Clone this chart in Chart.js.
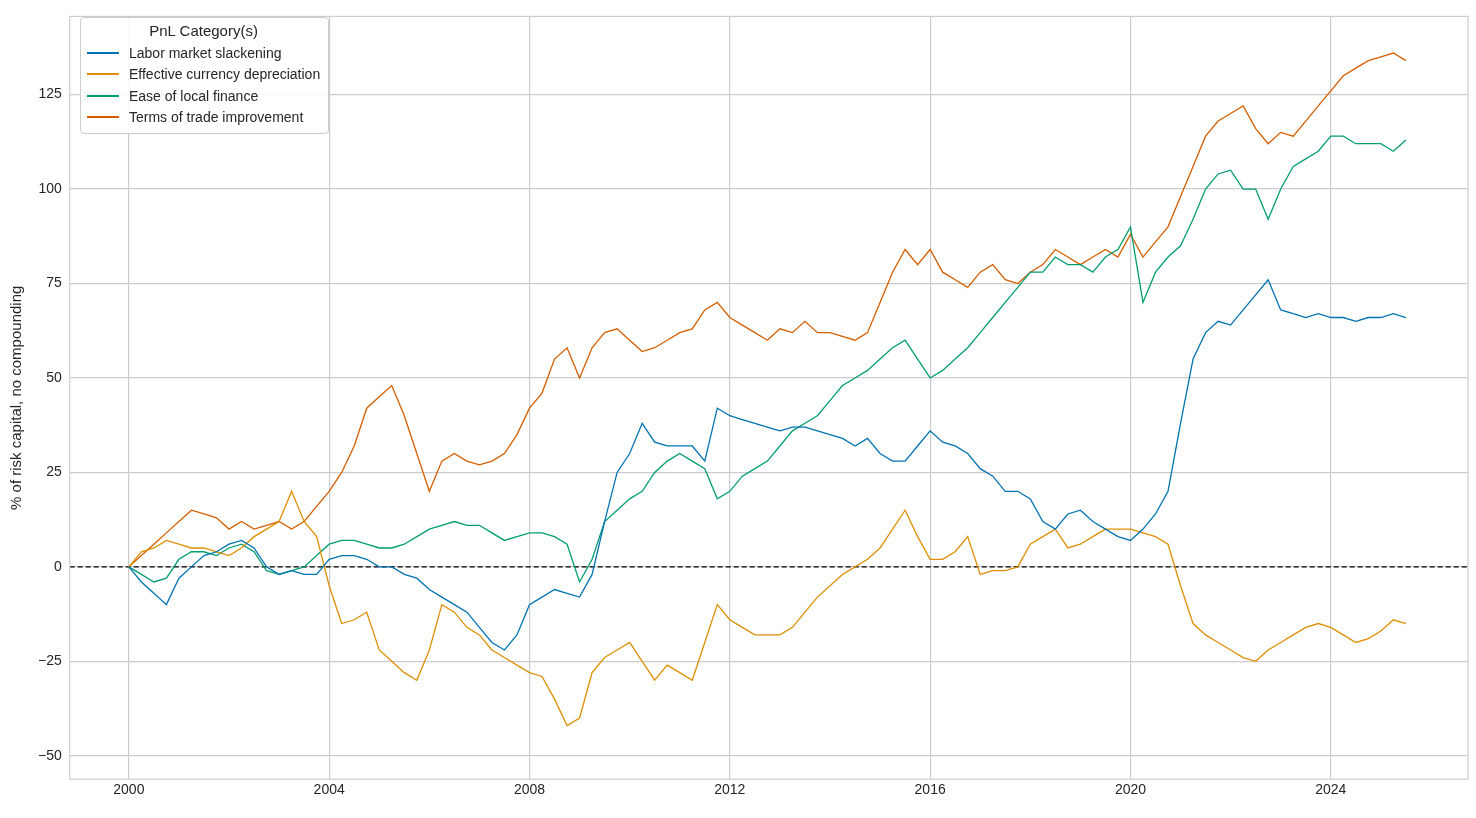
<!DOCTYPE html>
<html>
<head>
<meta charset="utf-8">
<script src="https://cdn.jsdelivr.net/npm/chart.js@4/dist/chart.umd.min.js"></script>
<style>
  body { margin: 0; background: #fff; font-family: "Liberation Sans", Arial, sans-serif; }
  #wrap { position: relative; width: 1476px; height: 818px; }
  #legend { position: absolute; left: 80px; top: 17px; border: 1px solid #ccc; border-radius: 4px;
    background: rgba(255,255,255,0.85); padding: 4px 8px 5px 6px; font-size: 14px; color: #262626; }
  #legend .t { text-align: center; font-size: 15px; margin-bottom: 3px; }
  #legend .r { display: flex; align-items: center; height: 21.5px; }
  #legend .s { width: 32px; height: 1.6px; margin-right: 10px; }
</style>
</head>
<body>
<div id="wrap">
  <canvas id="c" width="1476" height="818"></canvas>
  <div id="legend"><div class="t">PnL Category(s)</div></div>
</div>
<script>
// quarterly observation dates, 2000.00 .. 2025.50
var dates = [];
for ( var i = 0; i <= 102; i++ ) { dates.push( 2000 + i * 0.25 ); }

var seriesNames  = [ 'Labor market slackening', 'Effective currency depreciation', 'Ease of local finance', 'Terms of trade improvement' ];
var seriesColors = [ '#0173b2', '#de8f05', '#029e73', '#d55e00' ];

var labor = [ 0,-4,-7,-10, -3,0,3,4, 6,7,5,0, -2,-1,-2,-2, 2,3,3,2, 0,0,-2,-3, -6,-8,-10,-12, -16,-20,-22,-18,
  -10,-8,-6,-7, -8,-2,12,25, 30,38,33,32, 32,32,28,42, 40,39,38,37, 36,37,37,36, 35,34,32,34, 30,28,28,32,
  36,33,32,30, 26,24,20,20, 18,12,10,14, 15,12,10,8, 7,10,14,20, 38,55,62,65, 64,68,72,76, 68,67,66,67,
  66,66,65,66, 66,67,66 ];
var currency = [ 0,4,5,7, 6,5,5,4, 3,5,8,10, 12,20,12,8, -5,-15,-14,-12, -22,-25,-28,-30, -22,-10,-12,-16,
  -18,-22,-24,-26, -28,-29,-35,-42, -40,-28,-24,-22, -20,-25,-30,-26, -28,-30,-20,-10, -14,-16,-18,-18,
  -18,-16,-12,-8, -5,-2,0,2, 5,10,15,8, 2,2,4,8, -2,-1,-1,0, 6,8,10,5, 6,8,10,10, 10,9,8,6,
  -5,-15,-18,-20, -22,-24,-25,-22, -20,-18,-16,-15, -16,-18,-20,-19, -17,-14,-15 ];
var finance = [ 0,-2,-4,-3, 2,4,4,3, 5,6,4,-1, -2,-1,0,3, 6,7,7,6, 5,5,6,8, 10,11,12,11, 11,9,7,8,
  9,9,8,6, -4,2,12,15, 18,20,25,28, 30,28,26,18, 20,24,26,28, 32,36,38,40, 44,48,50,52, 55,58,60,55,
  50,52,55,58, 62,66,70,74, 78,78,82,80, 80,78,82,84, 90,70,78,82, 85,92,100,104, 105,100,100,92,
  100,106,108,110, 114,114,112,112, 112,110,113 ];
var terms = [ 0,3,6,9, 12,15,14,13, 10,12,10,11, 12,10,12,16, 20,25,32,42, 45,48,40,30, 20,28,30,28,
  27,28,30,35, 42,46,55,58, 50,58,62,63, 60,57,58,60, 62,63,68,70, 66,64,62,60, 63,62,65,62,
  62,61,60,62, 70,78,84,80, 84,78,76,74, 78,80,76,75, 78,80,84,82, 80,82,84,82, 88,82,86,90,
  98,106,114,118, 120,122,116,112, 115,114,118,122, 126,130,132,134, 135,136,134 ];

var yTicks = [ -50, -25, 0, 25, 50, 75, 100, 125 ];
var xTicks = [ 2000, 2004, 2008, 2012, 2016, 2020, 2024 ];

var values = [ labor, currency, finance, terms ];
var datasets = values.map( function ( v, k ) {
  return {
    label: seriesNames[ k ],
    data: dates.map( function ( d, i ) { return { x: d, y: v[ i ] }; } ),
    borderColor: seriesColors[ k ], borderWidth: 1.3, pointRadius: 0, tension: 0
  };
} );
datasets.push( {
  label: 'zero', data: [ { x: 1998.82, y: 0 }, { x: 2026.74, y: 0 } ],
  borderColor: '#000', borderWidth: 1.2, borderDash: [ 5, 3 ], pointRadius: 0
} );

var legend = document.getElementById( 'legend' );
seriesNames.forEach( function ( n, k ) {
  var r = document.createElement( 'div' );
  r.className = 'r';
  r.innerHTML = '<span class="s" style="background:' + seriesColors[ k ] + '"></span>' + n;
  legend.appendChild( r );
} );

var boxPlugin = {
  id: 'box',
  afterDraw: function ( chart ) {
    var a = chart.chartArea, ctx = chart.ctx;
    ctx.save();
    ctx.strokeStyle = '#cccccc';
    ctx.lineWidth = 1.2;
    ctx.strokeRect( a.left, a.top, a.right - a.left, a.bottom - a.top );
    ctx.restore();
  }
};

var font = { size: 14, family: 'Liberation Sans' };

new Chart( document.getElementById( 'c' ), {
  type: 'line',
  data: { datasets: datasets },
  options: {
    responsive: false, animation: false,
    layout: { padding: { top: 4, right: 8, left: 4, bottom: 16 } },
    plugins: { legend: { display: false }, tooltip: { enabled: false } },
    scales: {
      x: {
        type: 'linear', min: 1998.82, max: 2026.74,
        afterBuildTicks: function ( s ) { s.ticks = xTicks.map( function ( v ) { return { value: v }; } ); },
        ticks: { color: '#262626', font: font, callback: function ( v ) { return String( v ); } },
        grid: { color: '#cccccc', lineWidth: 1.2, drawTicks: false },
        border: { display: false }
      },
      y: {
        min: -56.2, max: 145.7,
        afterBuildTicks: function ( s ) { s.ticks = yTicks.map( function ( v ) { return { value: v }; } ); },
        ticks: { color: '#262626', font: font, padding: 8,
          callback: function ( v ) { return v < 0 ? '\u2212' + Math.abs( v ) : String( v ); } },
        grid: { color: '#cccccc', lineWidth: 1.2, drawTicks: false },
        border: { display: false },
        title: { display: true, text: '% of risk capital, no compounding', color: '#262626', font: { size: 15, family: 'Liberation Sans' } }
      }
    }
  },
  plugins: [ boxPlugin ]
} );
</script>
</body>
</html>
